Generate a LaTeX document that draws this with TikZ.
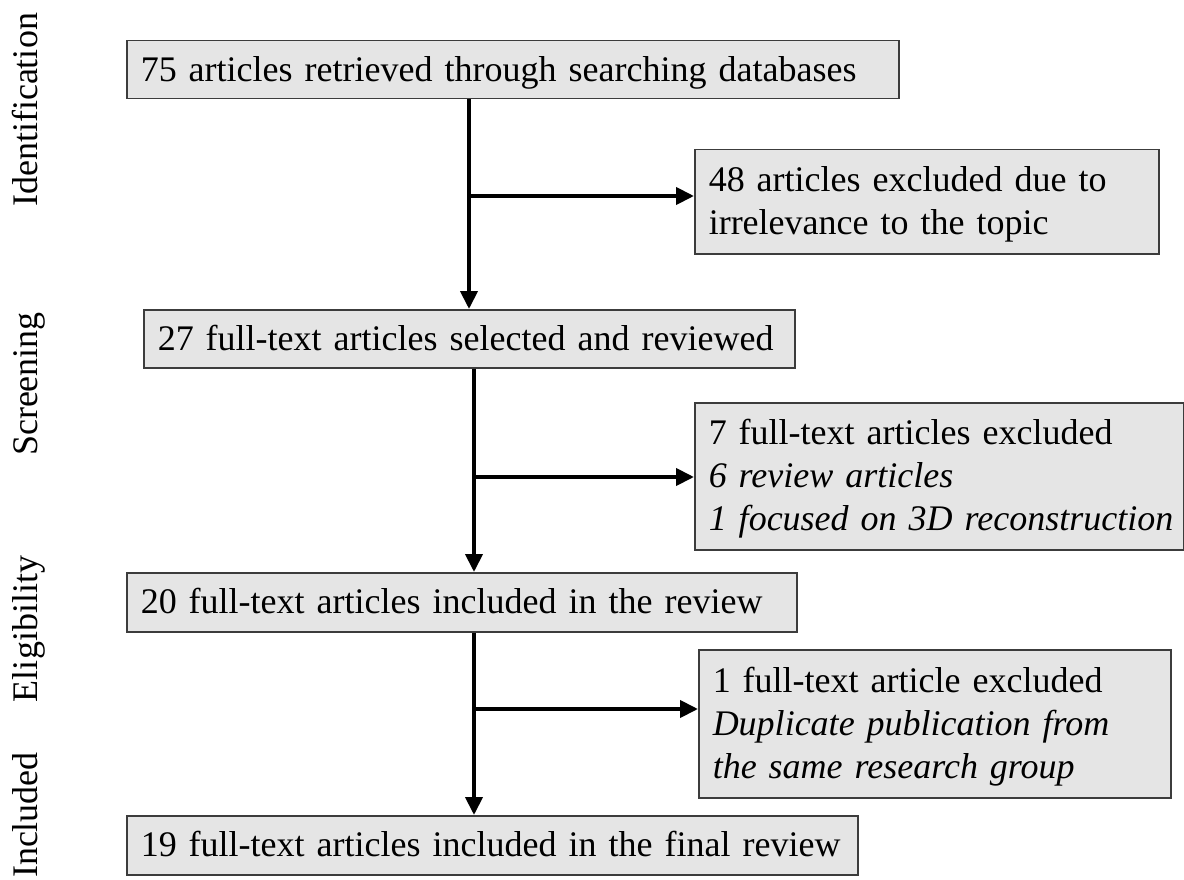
\documentclass[tikz,border=0pt]{standalone}
\usepackage{fontspec}
\setmainfont{Liberation Serif}
\usetikzlibrary{arrows.meta}
\newcommand\mystrut{\rule[-10pt]{0pt}{43pt}}
\newcommand\fline[1]{\mystrut\mbox{#1}}
\definecolor{boxfill}{RGB}{229,229,229}
\definecolor{boxline}{RGB}{60,60,60}
\tikzset{
  flowbox/.style={draw=boxline, line width=1.5pt, fill=boxfill, anchor=north west,
    inner xsep=14pt, inner ysep=0pt, align=left,
    font=\fontsize{36}{43}\selectfont},
  flowarrow/.style={line width=4pt, -{Triangle[length=18pt,width=17pt]}},
  phase/.style={rotate=90, anchor=base, inner sep=0pt, font=\fontsize{36}{43}\selectfont}
}
\begin{document}
\begin{tikzpicture}[x=1pt,y=1pt]
\useasboundingbox (0,0) rectangle (1184,-880);
% phase labels
\node[phase] (pid) at (37,-110) {Identification};
\node[phase] (psc) at (37,-384) {Screening};
\node[phase] (pel) at (37,-629) {Eligibility};
\node[phase] (pin) at (37,-815) {Included};
% main boxes
\node[flowbox, text width=744pt, minimum width=772pt, minimum height=58pt] (b1) at (126,-40)
  {\fline{75 articles retrieved through searching databases}};
\node[flowbox, text width=623pt, minimum width=651pt, minimum height=58pt] (b2) at (143,-309)
  {\fline{27 full-text articles selected and reviewed}};
\node[flowbox, text width=642pt, minimum width=670pt, minimum height=59pt] (b3) at (126,-572)
  {\fline{20 full-text articles included in the review}};
\node[flowbox, text width=703pt, minimum width=731pt, minimum height=59pt] (b4) at (126,-815)
  {\fline{19 full-text articles included in the final review}};
% exclusion boxes
\node[flowbox, text width=436pt, minimum width=464pt, minimum height=104pt] (e1) at (694,-149)
  {\fline{48 articles excluded due to}\\\fline{irrelevance to the topic}};
\node[flowbox, text width=461pt, minimum width=489pt, minimum height=147pt] (e2) at (694,-402)
  {\fline{7 full-text articles excluded}\\\fline{\textit{6 review articles}}\\\fline{\textit{1 focused on 3D reconstruction}}};
\node[flowbox, text width=444pt, minimum width=472pt, minimum height=148pt] (e3) at (698,-649)
  {\fline{1 full-text article excluded}\\\fline{\textit{Duplicate publication from}}\\\fline{\textit{the same research group}}};
% column and junction coordinates
\coordinate (c1) at (469,0);
\coordinate (c2) at (474,0);
\coordinate (j1) at (469,-196);
\coordinate (j2) at (474,-477);
\coordinate (j3) at (474,-709);
% vertical arrows
\draw[flowarrow] (b1.south -| c1) -- (b2.north -| c1);
\draw[flowarrow] (b2.south -| c2) -- (b3.north -| c2);
\draw[flowarrow] (b3.south -| c2) -- (b4.north -| c2);
% branch arrows
\draw[flowarrow] (j1) -- (j1 -| e1.west);
\draw[flowarrow] (j2) -- (j2 -| e2.west);
\draw[flowarrow] (j3) -- (j3 -| e3.west);
\end{tikzpicture}
\end{document}
